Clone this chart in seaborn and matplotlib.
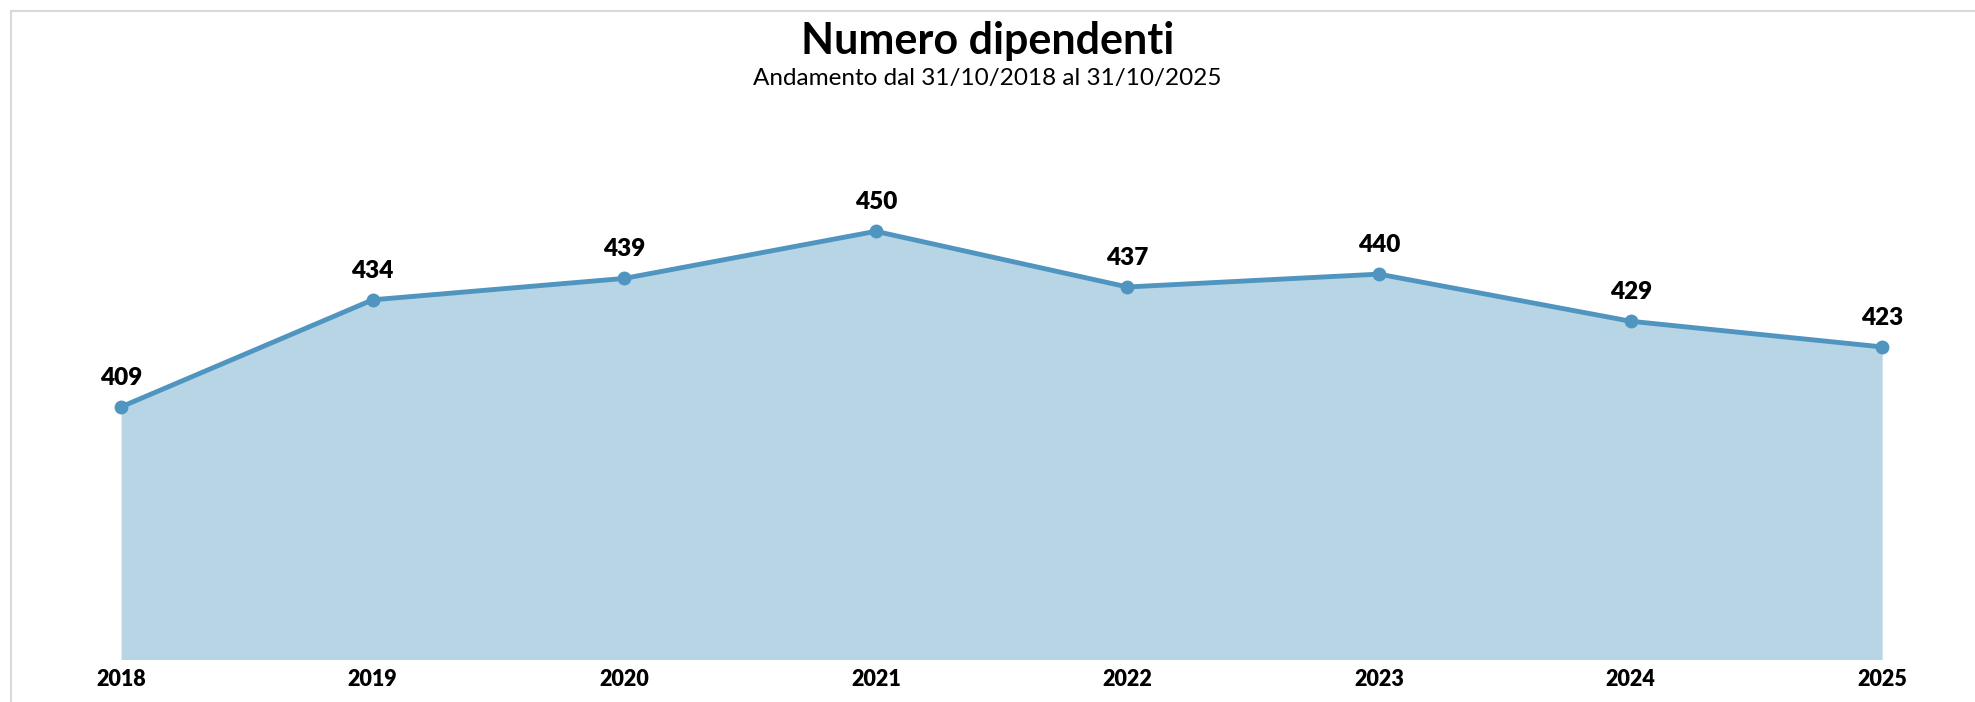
import pandas as pd
import matplotlib.pyplot as plt
import seaborn as sns
from matplotlib.lines import Line2D

sns.set_style('white')
plt.rcParams['font.family'] = ['Lato', 'DejaVu Sans']
plt.rcParams['text.color'] = 'black'
plt.rcParams['xtick.color'] = 'black'

anni = [2018, 2019, 2020, 2021, 2022, 2023, 2024, 2025]
dipendenti = [409, 434, 439, 450, 437, 440, 429, 423]

df = pd.DataFrame({'anno': anni, 'dipendenti': dipendenti})

colore_linea = '#4f95c0'
colore_area = '#b8d5e6'

fig = plt.figure(figsize=(19.75, 7.02), dpi=100)
ax = fig.add_axes([0.0613, 0.0605, 0.953 - 0.0613, 0.7925 - 0.0605])

base = 350
ax.fill_between(df['anno'], df['dipendenti'], base, color=colore_area, linewidth=0, zorder=1)
sns.lineplot(x='anno', y='dipendenti', data=df, ax=ax, color=colore_linea,
             linewidth=3.5, marker='o', markersize=10, markeredgewidth=0, zorder=3)
for l in ax.lines:
    l.set_clip_on(False)

for a, v in zip(df['anno'], df['dipendenti']):
    ax.annotate(str(v), (a, v), xytext=(0, 21), textcoords='offset points',
                ha='center', va='center', fontsize=17.5, fontweight='heavy', color='black')

ax.set_xlim(anni[0], anni[-1])
ax.set_ylim(base, 470)
ax.set_xticks(anni)
ax.set_xticklabels([str(a) for a in anni], fontsize=15.5, fontweight='heavy')
ax.tick_params(axis='x', length=0, pad=7)
ax.set_yticks([])
ax.set_xlabel('')
ax.set_ylabel('')
for s in ax.spines.values():
    s.set_visible(False)

fig.text(0.5, 0.942, 'Numero dipendenti', ha='center', va='center',
         fontsize=31, fontweight='bold')
fig.text(0.5, 0.888, 'Andamento dal 31/10/2018 al 31/10/2025', ha='center', va='center',
         fontsize=17.5)

# cornice grigia (sinistra e alto)
fig.add_artist(Line2D([0.0056, 0.0056], [0, 0.985], transform=fig.transFigure,
                      color='#d9d9d9', linewidth=1.5))
fig.add_artist(Line2D([0.0056, 1], [0.985, 0.985], transform=fig.transFigure,
                      color='#d9d9d9', linewidth=1.5))

fig.savefig('out.png', dpi=100)
